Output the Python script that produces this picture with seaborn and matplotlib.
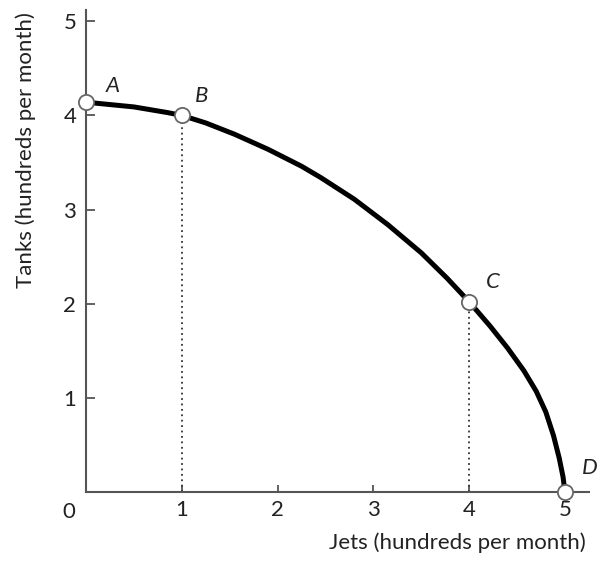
import matplotlib
matplotlib.use("Agg")
import matplotlib.pyplot as plt
import seaborn as sns
import pandas as pd

# Production possibilities frontier
jets = [0.0, 0.1, 0.5, 0.85, 1.0, 1.25, 1.55, 1.9, 2.25, 2.45, 2.8, 3.15,
        3.5, 3.77, 4.0, 4.22, 4.4, 4.57, 4.7, 4.8, 4.88, 4.94, 4.98, 5.0]
tanks = [4.14, 4.13, 4.09, 4.03, 4.0, 3.92, 3.8, 3.64, 3.46, 3.34, 3.11, 2.84,
         2.54, 2.27, 2.02, 1.76, 1.53, 1.29, 1.07, 0.85, 0.6, 0.36, 0.16, 0.0]

point_names = ["A", "B", "C", "D"]
point_jets = [0.0, 1.0, 4.0, 5.0]
point_tanks = [4.14, 4.0, 2.02, 0.0]

x_ticks = [1, 2, 3, 4, 5]
y_ticks = [1, 2, 3, 4, 5]
x_label = "Jets (hundreds per month)"
y_label = "Tanks (hundreds per month)"

sns.set_theme(style="white")
plt.rcParams["font.family"] = ["Lato", "DejaVu Sans"]

fig = plt.figure(figsize=(5.98, 5.62), dpi=100)
ax = fig.add_axes([0.1438, 0.1246, 0.841, 0.8577])

axis_col = "#555555"
text_col = "#222222"
fs = 16

curve = pd.DataFrame({"jets": jets, "tanks": tanks})
sns.lineplot(data=curve, x="jets", y="tanks", sort=False, color="black",
             linewidth=3.6, ax=ax, zorder=3, solid_joinstyle="round",
             solid_capstyle="round")

# dotted drop lines from B and C
for n, xj, yt in zip(point_names, point_jets, point_tanks):
    if n in ("B", "C"):
        ax.plot([xj, xj], [0, yt], linestyle=(0, (1, 2)), color="#333333",
                linewidth=1.3, zorder=2)

pts = pd.DataFrame({"jets": point_jets, "tanks": point_tanks, "name": point_names})
sns.scatterplot(data=pts, x="jets", y="tanks", s=120, color="white",
                edgecolor="#666666", linewidth=1.3, ax=ax, zorder=5, clip_on=False)

offsets = {"A": (19, 12), "B": (14, 14), "C": (17, 14), "D": (18, 17)}
for n, xj, yt in zip(point_names, point_jets, point_tanks):
    ax.annotate(n, (xj, yt), xytext=offsets[n], textcoords="offset points",
                ha="center", va="center", fontsize=fs, style="italic",
                color=text_col)

ax.set_xlim(0, 5.25)
ax.set_ylim(0, 5.12)
ax.set_xticks(x_ticks)
ax.set_yticks(y_ticks)
ax.set_xticklabels([str(v) for v in x_ticks])
ax.set_yticklabels([str(v) for v in y_ticks])

for s in ["top", "right"]:
    ax.spines[s].set_visible(False)
for s in ["left", "bottom"]:
    ax.spines[s].set_color(axis_col)
    ax.spines[s].set_linewidth(1.5)

ax.tick_params(axis="y", direction="in", length=6.5, width=1.3, color=axis_col,
               pad=7, labelsize=fs, labelcolor=text_col, left=True)
ax.tick_params(axis="x", direction="in", length=5, width=1.3, color=axis_col,
               pad=6, labelsize=fs, labelcolor=text_col, bottom=True)

ax.text(-0.035, -0.02, "0", transform=ax.transAxes, ha="center", va="top",
        fontsize=fs, color=text_col)

ax.set_xlabel(x_label, fontsize=fs, color=text_col)
ax.set_ylabel(y_label, fontsize=fs, color=text_col)
ax.xaxis.set_label_coords(0.738, -0.083)
ax.yaxis.set_label_coords(-0.10, 0.71)

fig.savefig("out.png", dpi=100)
